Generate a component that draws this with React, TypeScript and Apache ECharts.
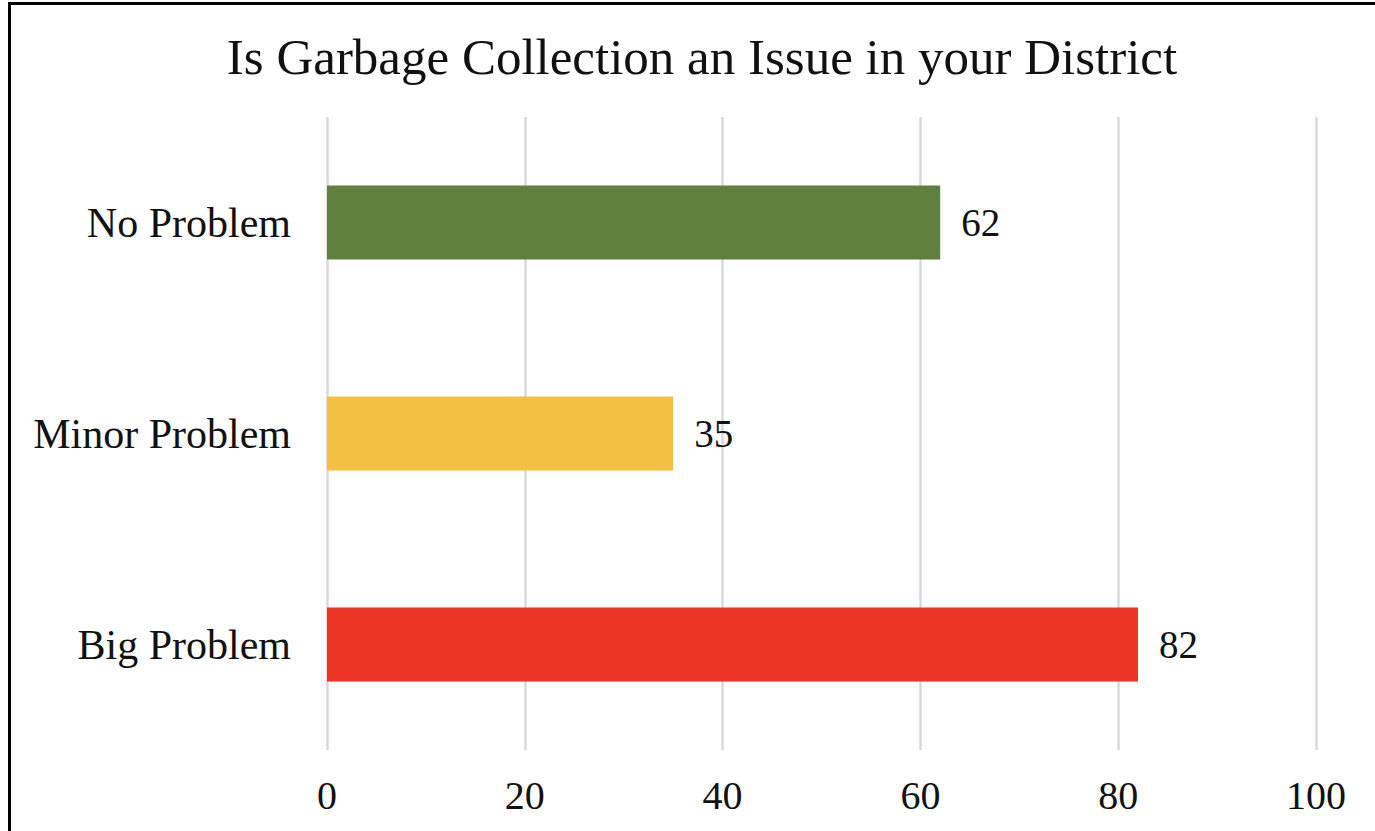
import React, { useEffect, useRef } from "react";
import * as echarts from "echarts";

const categories = ["Big Problem", "Minor Problem", "No Problem"];
const values = [82, 35, 62];
const barColors = ["#ec3424", "#f4c043", "#5f803c"];
const xTicks = [0, 20, 40, 60, 80, 100];

const FONT = "'Liberation Serif', 'Times New Roman', serif";

export default function App() {
  const ref = useRef<HTMLDivElement>(null);
  useEffect(() => {
    if (!ref.current) return;
    const chart = echarts.init(ref.current, undefined, { renderer: "svg" });
    chart.setOption({
      animation: false,
      backgroundColor: "#ffffff",
      title: {
        text: "Is Garbage Collection an Issue in your District",
        left: 697,
        top: 26,
        textAlign: "center",
        textStyle: { fontFamily: FONT, fontSize: 51, fontWeight: "normal", color: "#111" },
      },
      graphic: [
        { type: "line", shape: { x1: 8, y1: 3.5, x2: 1375, y2: 3.5 }, style: { stroke: "#000", lineWidth: 3 } },
        { type: "line", shape: { x1: 9.5, y1: 2, x2: 9.5, y2: 831 }, style: { stroke: "#000", lineWidth: 3 } },
      ],
      grid: { left: 327, right: 1375 - 1316, top: 117, bottom: 831 - 750, containLabel: false },
      xAxis: {
        type: "value",
        min: xTicks[0],
        max: xTicks[xTicks.length - 1],
        interval: 20,
        axisLine: { show: false },
        axisTick: { show: false },
        splitLine: { show: true, lineStyle: { color: "#d9d9d9", width: 2.5 } },
        axisLabel: { fontFamily: FONT, fontSize: 40, color: "#111", margin: 25 },
      },
      yAxis: {
        type: "category",
        data: categories,
        axisLine: { show: false },
        axisTick: { show: false },
        axisLabel: { fontFamily: FONT, fontSize: 42, color: "#111", margin: 36 },
      },
      series: [
        {
          type: "bar",
          barWidth: 74,
          data: values.map((v, i) => ({ value: v, itemStyle: { color: barColors[i] } })),
          label: {
            show: true,
            position: "right",
            distance: 21,
            fontFamily: FONT,
            fontSize: 39,
            color: "#111",
          },
        },
      ],
    });
    return () => chart.dispose();
  }, []);
  return (
    <div
      ref={ref}
      style={{ position: "fixed", left: 0, top: 0, width: 1375, height: 831 }}
    />
  );
}
